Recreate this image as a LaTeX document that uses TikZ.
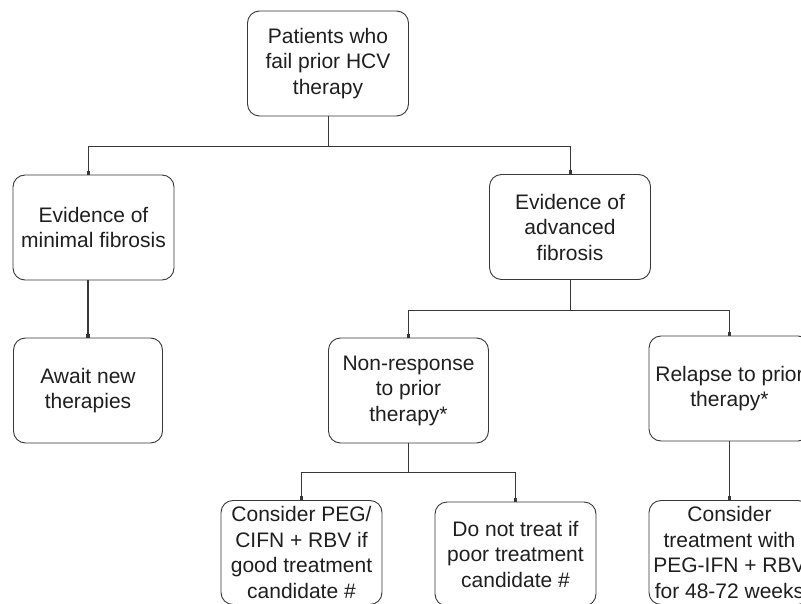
\documentclass[tikz,border=0pt]{standalone}
\usepackage{fontspec}
\setmainfont{Liberation Sans}
\usetikzlibrary{arrows.meta}
\definecolor{inkgray}{HTML}{383838}

\begin{document}
\begin{tikzpicture}[x=1pt, y=-1pt,
        box/.style={draw=inkgray, line width=0.9pt, rounded corners=12pt, align=center, inner sep=0pt,
            minimum width=161pt, minimum height=105pt, text=black!88, font=\fontsize{21}{25.5}\selectfont},
        link/.style={draw=inkgray, line width=0.8pt},
        feed/.style={link, -{Rectangle[length=4pt,width=3pt]}},
        heavy/.style={link, line width=1.7pt, -{Rectangle[length=4pt,width=3.5pt]}}]
        \useasboundingbox (0,0) rectangle (801,604);
        \fill[white] (0,0) rectangle (801,604);
        \clip (0,0) rectangle (801,604);

        \node[box] (root) at (328,63.5) {Patients who\\fail prior HCV\\therapy};
        \node[box] (minimal) at (93.5,227.5) {Evidence of\\minimal fibrosis};
        \node[box] (advanced) at (570,227) {Evidence of\\advanced\\fibrosis};
        \node[box, minimum width=149pt] (await) at (88,390.5) {Await new\\therapies};
        \node[box, minimum width=160pt] (nonresp) at (408.5,390.5) {Non-response\\to prior\\therapy*};
        \node[box] (relapse) at (729.5,388.5) {Relapse to prior\\therapy*};
        \node[box, minimum height=104pt] (goodcand) at (301.5,552.5) {Consider PEG/\\CIFN + RBV if\\good treatment\\candidate \#};
        \node[box, minimum height=104pt] (poorcand) at (515.5,554) {Do not treat if\\poor treatment\\candidate \#};
        \node[box, minimum height=104pt] (retreat) at (729.5,552.5) {Consider\\treatment with\\PEG-IFN + RBV\\for 48-72 weeks};

        \coordinate (minIn) at (await.north |- minimal.north);
        \draw[link] (root.south) -- ++(0,30) coordinate (split1);
        \draw[feed] (split1) -| (minIn);
        \draw[feed] (split1) -| (advanced.north);
        \draw[heavy] (await.north |- minimal.south) -- (await.north);

        \draw[link] (advanced.south) -- ++(0,30) coordinate (split2);
        \draw[feed] (split2) -| (nonresp.north);
        \draw[feed] (split2) -| (relapse.north);

        \draw[link] (nonresp.south) -- ++(0,29) coordinate (split3);
        \draw[feed] (split3) -| (goodcand.north);
        \draw[feed] (split3) -| (poorcand.north);
        \draw[heavy] (relapse.south) -- (retreat.north);
    \end{tikzpicture}
\end{document}
